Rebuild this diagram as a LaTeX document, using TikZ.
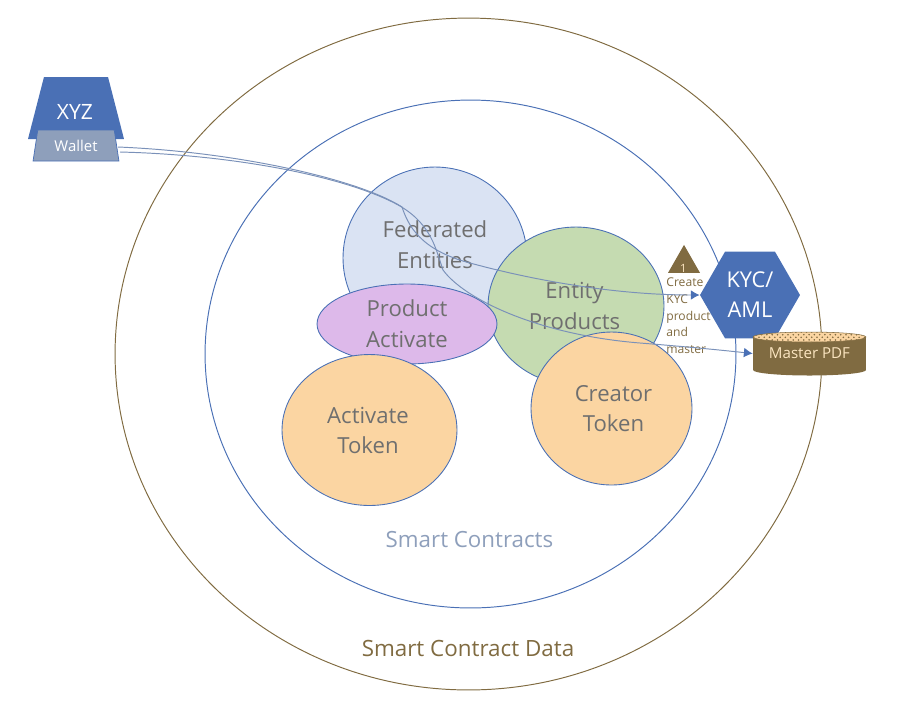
\documentclass[tikz,border=0pt]{standalone}
\usepackage{fontspec}
\setmainfont{Open Sans}
\usetikzlibrary{shapes.geometric,arrows.meta,patterns}
\definecolor{mblue}{HTML}{4A70B5}
\definecolor{mbrown}{HTML}{806B41}
\definecolor{mgrey}{HTML}{6F6F6F}
\definecolor{mcream}{HTML}{FBE5C0}
\definecolor{mslate}{HTML}{8E9FBB}
\definecolor{mfed}{HTML}{DAE3F3}
\definecolor{ment}{HTML}{C5DBB1}
\definecolor{mprod}{HTML}{DDB9EA}
\definecolor{mtoken}{HTML}{FBD5A2}
\tikzset{
  blob/.style={ellipse,draw=mblue,line width=.5pt,inner sep=0pt,text=mgrey,align=center,font=\fontsize{12.6}{17.5}\selectfont},
  ring/.style={ellipse,draw,line width=.55pt,inner sep=0pt},
  link/.style={draw=mslate!70!mblue,line width=.55pt,-{Latex[length=5pt,width=5.5pt,color=mblue]}}
}
\begin{document}
\begin{tikzpicture}[x=.02cm,y=-.02cm]
  \useasboundingbox (0,0) rectangle (922,701);

  % rings
  \node[ring,draw=mbrown,minimum width=14.14cm,minimum height=13.44cm] (data) at (468.5,354) {};
  \node[ring,draw=mblue,minimum width=10.62cm,minimum height=10.16cm] (contracts) at (470.5,354) {};
  \node[text=mslate,font=\fontsize{12.7}{14}\selectfont] (contractslabel) at (469.5,540) {Smart Contracts};
  \node[text=mbrown,font=\fontsize{12.75}{14}\selectfont] (datalabel) at (468,648.5) {Smart Contract Data};

  % blobs
  \node[blob,fill=mfed,minimum width=3.68cm,minimum height=3.64cm] (fed) at (435,258) {};
  \node[text=mgrey,align=center,font=\fontsize{12.6}{17.5}\selectfont] (fedlabel) at (435,245) {Federated\\Entities};
  \node[blob,fill=ment,minimum width=3.52cm,minimum height=3.16cm] (ent) at (576,306) {};
  \node[text=mgrey,align=center,font=\fontsize{12.6}{17.5}\selectfont] (entlabel) at (574.5,306) {Entity\\Products};
  \node[blob,fill=mprod,minimum width=3.6cm,minimum height=1.6cm] (prod) at (407,324) {Product\\Activate};
  \node[blob,fill=mtoken,minimum width=3.5cm,minimum height=3.02cm] (act) at (369.5,430) {};
  \node[text=mgrey,align=center,font=\fontsize{12.6}{17.5}\selectfont] (actlabel) at (368,430.5) {Activate\\Token};
  \node[blob,fill=mtoken,minimum width=3.22cm,minimum height=3.06cm] (cre) at (611.5,408.5) {};
  \node[text=mgrey,align=center,font=\fontsize{12.6}{17.5}\selectfont] (crelabel) at (613.5,408.5) {Creator\\Token};

  % wallet
  \node[trapezium,trapezium stretches=true,trapezium left angle=76,trapezium right angle=76,fill=mblue,minimum width=1.92cm,minimum height=1.24cm,inner sep=1pt] (xyz) at (76,108) {};
  \node[text=white,font=\fontsize{12}{14}\selectfont] (xyzlabel) at (75,112) {XYZ};
  \node[trapezium,trapezium stretches=true,trapezium left angle=77,trapezium right angle=77,fill=mslate,draw=mblue,line width=.4pt,minimum width=1.72cm,minimum height=.62cm,inner sep=0pt,text=white,font=\fontsize{8.5}{10}\selectfont] (wallet) at (76,145.5) {Wallet};

  % step marker
  \node[isosceles triangle,isosceles triangle apex angle=60,shape border rotate=90,isosceles triangle stretches=true,fill=mbrown,minimum width=.64cm,minimum height=.56cm,inner sep=1pt] (mark) at (684,264) {};
  \node[text=mcream,font=\fontsize{6.5}{7}\selectfont,inner sep=0pt] (marklabel) at (683.5,268.5) {1};
  \node[text=mbrown,align=left,anchor=north west,inner sep=0pt,font=\fontsize{6.9}{9.55}\selectfont] (steptext) at (666,277.5) {Create\\KYC\\product\\and\\master};

  % services
  \node[regular polygon,regular polygon sides=6,fill=mblue,minimum size=2cm,inner sep=0pt,text=white,align=center,font=\fontsize{12.4}{17}\selectfont] (kyc) at (750,295) {KYC/\\AML};
  \node[ellipse,fill=mbrown,minimum width=2.26cm,minimum height=.22cm,inner sep=0pt] (pdfbase) at (809.5,370) {};
  \node[fill=mbrown,minimum width=2.26cm,minimum height=.66cm,inner sep=0pt,text=mcream,font=\fontsize{8.6}{10}\selectfont] (pdf) at (809.5,353.5) {Master PDF};
  \node[ellipse,draw=mbrown,line width=.3pt,fill=mtoken,postaction={pattern=crosshatch dots,pattern color=mbrown},minimum width=2.26cm,minimum height=.2cm,inner sep=0pt] (pdftop) at (809.5,337) {};

  % links
  \coordinate (w1) at (118,147);
  \coordinate (w2) at (120,152);
  \draw[link] (w1) .. controls (240,152) and (360,180) .. (402,207)
    .. controls (408,225) and (420,250) .. (470,263) .. controls (540,282) and (620,295) .. (kyc.west);
  \draw[link] (w2) .. controls (240,155) and (350,178) .. (400,206)
    .. controls (432,225) and (436,250) .. (443,270) .. controls (465,300) and (540,335) .. (640,343) .. controls (690,347) and (720,350) .. (pdf.west);

\end{tikzpicture}
\end{document}
